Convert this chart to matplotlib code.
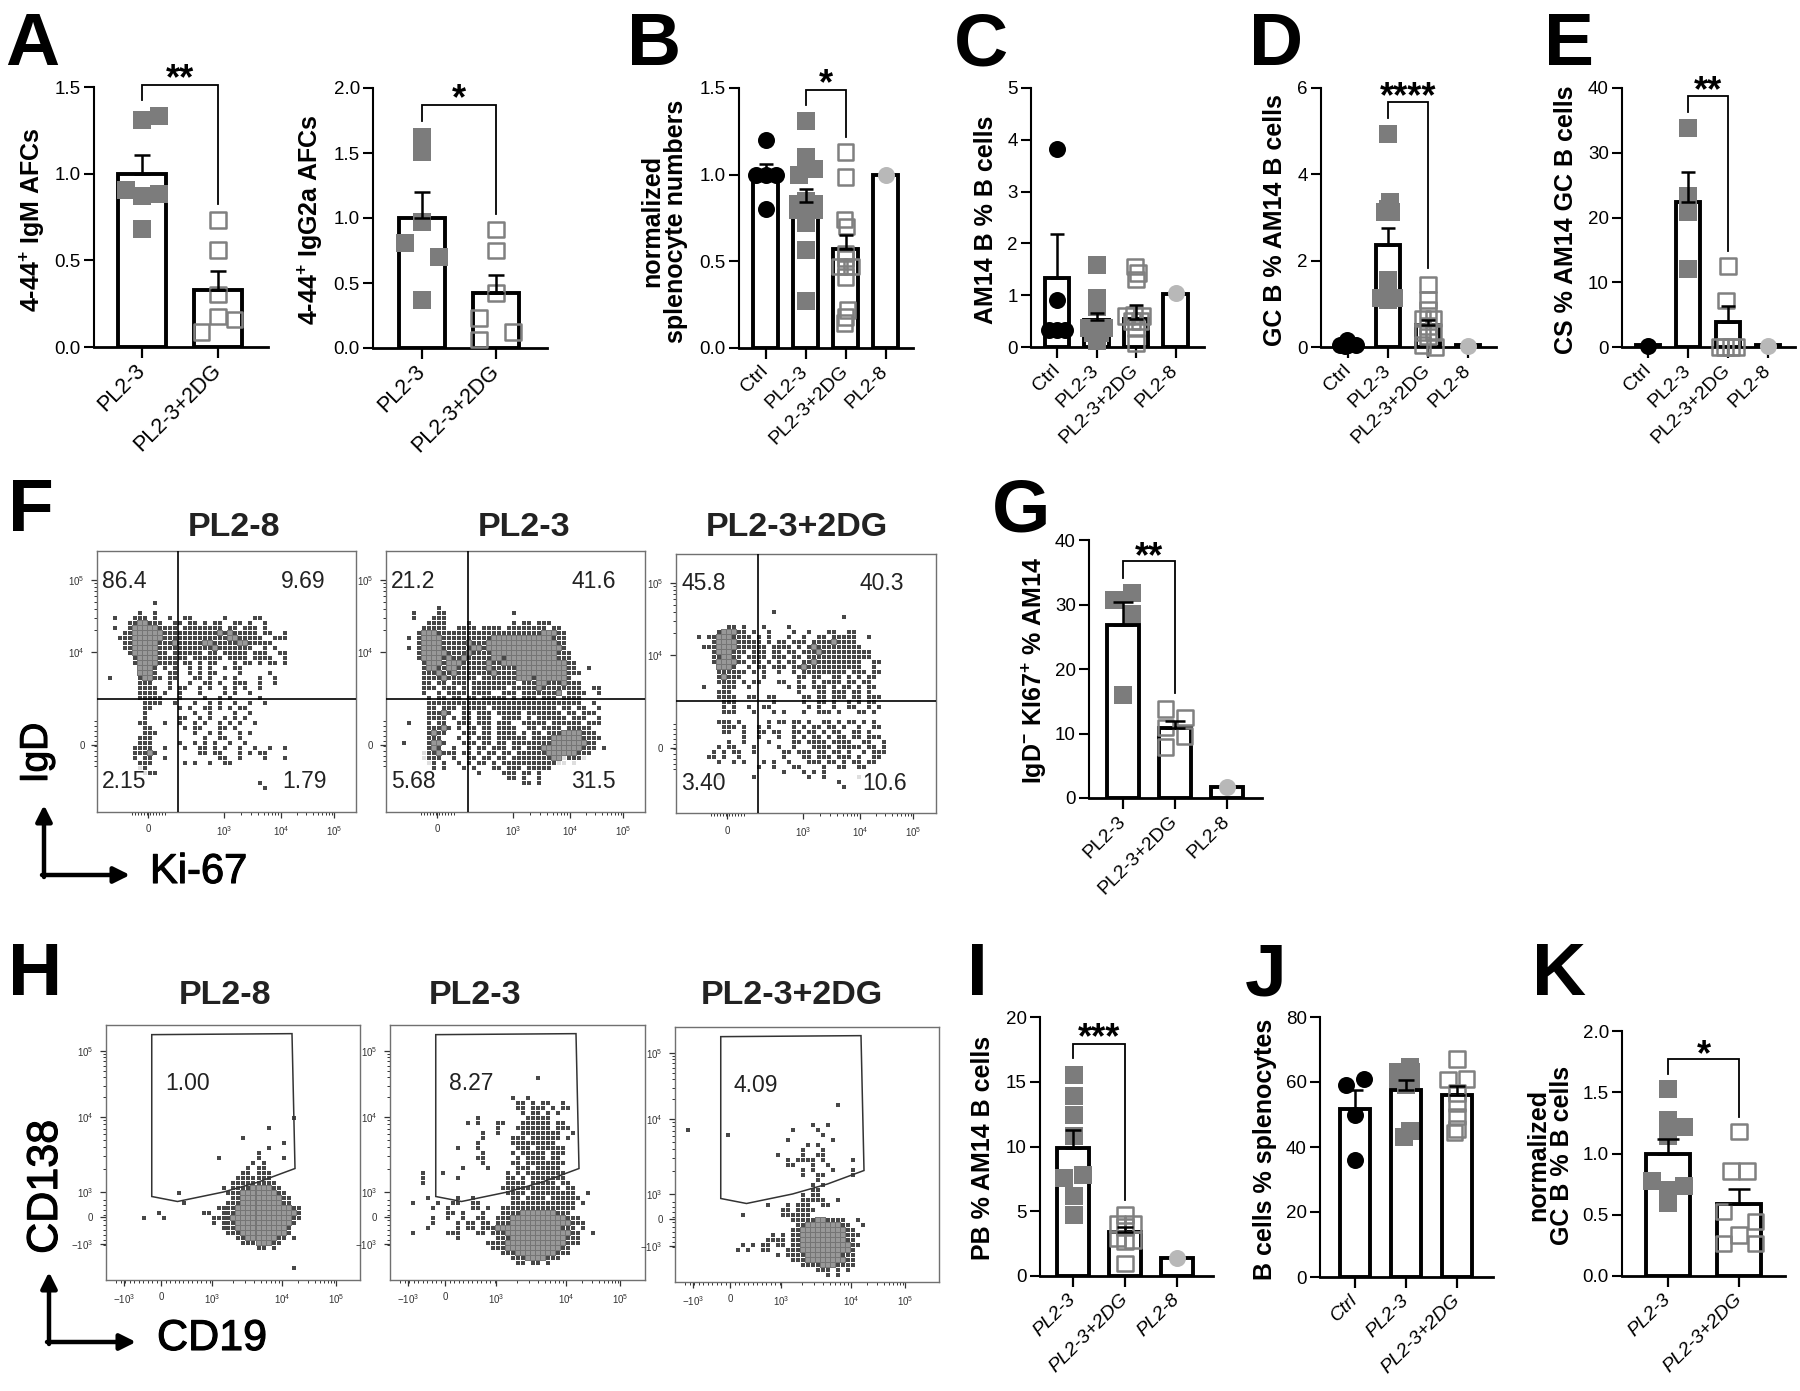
import numpy as np
import matplotlib
matplotlib.use('Agg')
import matplotlib.pyplot as plt
import matplotlib.patheffects as pe
from matplotlib.patches import Polygon

plt.rcParams['font.family'] = ['Liberation Sans', 'DejaVu Sans']
plt.rcParams['mathtext.fontset'] = 'custom'
plt.rcParams['mathtext.rm'] = 'Liberation Sans'
plt.rcParams['mathtext.bf'] = 'Liberation Sans:bold'

W, H = 1800, 1391

# ---- bar panels: means, sem and single animals
A1_GROUPS = ['PL2-3', 'PL2-3+2DG']
A1_MEANS = [1.0, 0.33]
A1_SEMS = [0.105, 0.11]
A1_VALUES = [[1.31, 1.33, 0.906, 0.87, 0.883, 0.68], [0.733, 0.56, 0.303, 0.177, 0.16, 0.088]]
A1_DX = [[0.0, 0.23, -0.21, 0.0, 0.23, 0.0], [0.0, 0.0, 0.0, 0.0, 0.22, -0.22]]

A2_GROUPS = ['PL2-3', 'PL2-3+2DG']
A2_MEANS = [1.0, 0.42]
A2_SEMS = [0.2, 0.14]
A2_VALUES = [[1.62, 1.51, 0.97, 0.805, 0.70, 0.367], [0.913, 0.75, 0.423, 0.23, 0.123, 0.064]]
A2_DX = [[0.0, 0.0, 0.0, -0.23, 0.23, 0.0], [0.0, 0.0, 0.0, -0.23, 0.23, -0.23]]

B_GROUPS = ['Ctrl', 'PL2-3', 'PL2-3+2DG', 'PL2-8']
B_MEANS = [1.01, 0.84, 0.57, 1.0]
B_SEMS = [0.05, 0.08, 0.08, 0.0]
B_VALUES = [[1.2, 1.0, 1.0, 1.0, 0.8],
            [1.31, 1.10, 1.035, 1.03, 1.0, 0.85, 0.83, 0.83, 0.795, 0.795, 0.72, 0.565, 0.27],
            [1.13, 0.987, 0.74, 0.70, 0.545, 0.515, 0.47, 0.47, 0.47, 0.41, 0.22, 0.18, 0.145],
            [1.0]]
B_DX = [[0.0, -0.25, 0.0, 0.25, 0.0],
        [0.0, 0.0, 0.0, 0.2, -0.17, 0.0, -0.2, 0.2, -0.2, 0.2, 0.0, 0.0, 0.0],
        [0.0, 0.0, -0.02, 0.03, 0.0, 0.0, -0.15, 0.15, 0.0, 0.0, 0.05, 0.0, -0.02],
        [0.0]]

C_GROUPS = ['Ctrl', 'PL2-3', 'PL2-3+2DG', 'PL2-8']
C_MEANS = [1.34, 0.53, 0.55, 1.02]
C_SEMS = [0.85, 0.13, 0.27, 0.0]
C_VALUES = [[3.83, 0.91, 0.32, 0.32, 0.32],
            [1.58, 0.95, 0.78, 0.37, 0.37, 0.37, 0.27, 0.27, 0.11],
            [1.55, 1.43, 1.3, 0.62, 0.6, 0.6, 0.5, 0.5, 0.37, 0.08],
            [1.04]]
C_DX = [[0.0, 0.0, -0.2, 0.0, 0.2],
        [0.0, 0.0, 0.0, -0.2, 0.0, 0.2, -0.1, 0.1, 0.0],
        [-0.03, 0.05, 0.0, -0.05, -0.25, 0.15, -0.1, 0.1, 0.0, 0.0],
        [0.0]]

D_GROUPS = ['Ctrl', 'PL2-3', 'PL2-3+2DG', 'PL2-8']
D_MEANS = [0.09, 2.36, 0.5, 0.05]
D_SEMS = [0.03, 0.39, 0.12, 0.0]
D_VALUES = [[0.16, 0.05, 0.05, 0.05, 0.03],
            [4.94, 3.36, 3.2, 3.13, 3.13, 1.55, 1.32, 1.13, 1.13, 1.1],
            [1.45, 1.09, 0.86, 0.66, 0.66, 0.47, 0.35, 0.35, 0.24, 0.05, 0.0],
            [0.02]]
D_DX = [[-0.03, -0.2, 0.0, 0.2, -0.08],
        [0.0, 0.05, 0.0, -0.07, 0.07, 0.0, 0.0, -0.17, 0.14, 0.0],
        [0.0, 0.0, 0.0, -0.14, 0.14, 0.0, -0.14, 0.14, 0.0, -0.14, 0.17],
        [0.0]]

E_GROUPS = ['Ctrl', 'PL2-3', 'PL2-3+2DG', 'PL2-8']
E_MEANS = [0.3, 22.4, 3.8, 0.25]
E_SEMS = [0.1, 4.6, 2.6, 0.0]
E_VALUES = [[0.2], [33.8, 23.3, 20.8, 12.05], [12.5, 7.2, 0.0, 0.0, 0.0, 0.0], [0.1]]
E_DX = [[0.0], [0.0, 0.0, 0.0, 0.0], [0.0, -0.05, -0.2, -0.07, 0.07, 0.2], [0.0]]

G_GROUPS = ['PL2-3', 'PL2-3+2DG', 'PL2-8']
G_MEANS = [26.8, 10.8, 1.7]
G_SEMS = [3.6, 1.2, 0.0]
G_VALUES = [[31.8, 30.7, 28.5, 16.0], [13.8, 12.5, 10.9, 9.6, 7.9], [1.7]]
G_DX = [[0.18, -0.18, 0.18, 0.0], [-0.18, 0.19, -0.18, 0.18, -0.18], [0.0]]

I_GROUPS = ['PL2-3', 'PL2-3+2DG', 'PL2-8']
I_MEANS = [9.9, 3.4, 1.4]
I_SEMS = [1.4, 0.4, 0.0]
I_VALUES = [[15.5, 13.9, 12.45, 10.8, 7.6, 7.8, 6.2, 4.7],
            [4.7, 4.0, 4.0, 3.8, 2.9, 2.8, 2.7, 0.98], [1.4]]
I_DX = [[0.02, 0.02, 0.02, 0.02, -0.17, 0.19, 0.02, 0.02],
        [0.0, -0.14, 0.15, 0.0, -0.14, 0.15, 0.0, 0.0], [0.0]]

J_GROUPS = ['Ctrl', 'PL2-3', 'PL2-3+2DG']
J_MEANS = [51.6, 57.5, 56.0]
J_SEMS = [5.8, 3.2, 2.8]
J_VALUES = [[61.0, 59.0, 50.0, 36.0],
            [64.5, 63.0, 63.0, 61.0, 61.0, 59.0, 45.0, 43.0],
            [67.0, 61.0, 60.7, 56.6, 53.5, 49.4, 45.5, 44.5]]
J_DX = [[0.18, -0.18, 0.0, 0.0],
        [0.08, -0.16, 0.1, -0.16, 0.1, 0.0, 0.08, -0.04],
        [0.0, 0.19, -0.18, 0.0, 0.0, 0.0, 0.0, -0.05]]

K_GROUPS = ['PL2-3', 'PL2-3+2DG']
K_MEANS = [1.0, 0.59]
K_SEMS = [0.12, 0.12]
K_VALUES = [[1.525, 1.275, 1.215, 1.14, 0.777, 0.736, 0.70, 0.594],
            [1.18, 0.858, 0.858, 0.526, 0.444, 0.335, 0.267, 0.267]]
K_DX = [[0.0, 0.0, 0.23, 0.0, -0.23, 0.23, 0.0, 0.0],
        [0.0, -0.11, 0.11, -0.22, 0.23, 0.0, -0.22, 0.23]]

# ---- flow plots: raster of the dots, one character per 5 px bin
# '#' dark dot, 'o' mid grey, '-' pale
F1_START = 10
F1_DOTS = [
"           #",
"",
"        #  #",
"   #   ### #  #  ##      #     ##",
"      ##oo###  ## ## # ##  ## #  #",
"   #  #ooooo#### ######## ## ### #",
"     ##oooooo###########o#o##### ##  #",
"    ###oooooo#############oo#####  ###",
"     ##ooooo###o#####oo#####oo#####",
"     ##ooooo###########o#######  # #",
"      #ooooo## ###### ## ##### ###  ##",
"       #oooo###### ###### #### ####  #",
"       #oooo#### ## # ##   # ## # ## #",
"        ooo# # #  # # #  # ##",
"        ooo#  ##  # # ##    #     #",
"  #     #oo## ##   ## #  # #    #  #",
"        ###   #   #  ## #  ###  #  #",
"        ####  # ##  # #  # # #  #",
"        #### #  #   #    # #  #",
"        #####   #    #  # #     #",
"         ####  #   #  # #  #  #  #",
"         ##     # #  ## # # ##",
"         #         #  #    #  #",
"         #      ##  # #  # # #",
"        ##   #  #  # #  # # #  #",
"         ##      # ##   ## #",
"         ###       #  # #   # #",
"        ###          #  ##  #",
"        ###     #  # # #  #  #",
"       ####  #   #  ## # #  #  #  #  #",
"       ###o#        ## ##   # # ##",
"       # ##  #          ##  #    #   #",
"        ###      # #  #  ##",
"        -#",
"         -##",
"",
"                                #",
"                                 #",
"",
"",
"",
"",
"",
"              #",
]

F2_START = 11
F2_DOTS = [
"          #",
"     #    ##             #",
"     #   ###",
"        ####    #        # ## ###",
"       #####  #### #### ######## ##",
"      #ooo#####################ooo##",
"    # #oooo##########oooooooooooo###",
"      #oooo#####o###oooooooooooooo##",
"    # #oooo######oo#ooooooooooooooo#",
"      #ooooo####o####ooooooooooooo###",
"      #oooo#o##o#####oo#oooooooooo###",
"       #ooo#ooo#####o##ooooooooooooo##",
"       #oo##oo######o#####oooooooooo##  #",
"       ###o##o#######o####oooooooooo###",
"       ####o###### #######ooo#oooooo#",
"       ## ## ### ######### ###oo###o###",
"       ### ### # ####### #####o########  ##",
"       #  # #### ####  ### #######o ####  #",
"        # ## ## ## ##### # ### ### ####",
"        ###############################  #",
"        ## ### ##### ############# ## ##  #",
"        ###o#  ## ### ##### ####### ## ###",
"        #### # ## ###  #### # ###### ###  #",
"    #   # ##  ### ### ###  ##### ###### ###",
"        ###o# # ## ## ####  ## #### #####",
"        #o##   ### ## #### # ## ###oooo###",
"        ###   # # ### ###### ####oooooo####",
"   #    #oo#   ### ## ## ########ooooooo##",
"        #o#  #  # ## ### ## ###oooooooo### #",
"       -##o### ## # ## ## ######oooooo###",
"       -###  #  ## ## ## ########oo-###-",
"        -# #  # # ## # ###########-- -",
"         # #   # #   ## ### #####",
"                  #    ### ## #",
"                        ## #  #",
"                           ## #",
]

F3_START = 11
F3_DOTS = [
"                   #",
"                                 #",
"",
"          ## #   #    #",
"        #ooo## #  #    #  #   ##  ##",
"    # ##ooo#### # #   #  #  ## #####  #",
"       #oooo##### # ## ### ####o####",
"     ###oooo###### #### # #o#########",
"       #ooo### ### ## ## ###o##########",
"       ##oo## #### ### ## #############",
"       #oooo## ## # # ## ##o#########  ##",
"        ooo#  # ## ### ##o###########  #",
"        ###### # #  #  # ######### ### ##",
"        #o###    #      ## ##  ## # # ##",
"        #### # ##   ##  #  # #### ## ##",
"     #   ###  #       # ## ### # ## # ##",
"        ###             #   ## ### ## #",
"        ####  ##  ##     ## ## ### ## ###",
"         ###       #     #  ## #  # # ##",
"         # #  #  ##       # #  #  ##  # #",
"         ###   #   # #   #  ### #   ## #",
"",
"        ### #     # ## ## #  ## # ## # #",
"         ### #  # #    # # ## ## #  #  ##",
"         ##  #  ## ##  ## ## # ##  ## #",
"             #  #   #  # # ## # ## ## ###",
"          #  #    #    ## #### ####  ##  #",
"        # ##   #    #  #   #### ##### ## #",
"       # # ##  #     ## ### ## ## #  # ###",
"      ## #  #        #   ## ### ### #  ##",
"        #  # #   # #  #   ### ## # ## ##",
"                #  #   ##    #  ##  ##",
"                     #   # # #",
"        -      #          #  #      -",
"                                #",
"                                 #",
]

H1_START = 18
H1_DOTS = [
"                                     #",
"",
"                                #",
"",
"                           #",
"                                   #",
"                                #",
"                              #",
"                      #       #    #",
"                             # #",
"                            # ##",
"                           ## ###",
"                          #######",
"                         #########",
"                       # ####oooo##",
"              #         ###ooooooo##",
"                         ##oooooooo##",
"               #        ###oooooooo##",
"                      ####ooooooooooo##",
"          #        ##  ###oooooooooooo#",
"       #   #         ####oooooooooooo##",
"                     # ###ooooooooooo#",
"                       ###oooooooooo#",
"                        ###ooooooooo#",
"                          ##oooooo## #",
"                           ###ooo##",
"                              ## #",
"",
"",
"",
"                                     #",
]

H2_START = 10
H2_DOTS = [
"                             #",
"",
"",
"",
"                        #  #",
"                         ## # ##  #",
"                         ## ### # ##",
"                          # ## # #",
"                 #         #####",
"               # #   ##   ###### ##",
"                     #   ####### ###",
"                  #  #    ########  #",
"                  #     ### ###### #",
"                 #      #########",
"             #   #       ### ######",
"                  #     # ##### ###",
"                 ##      # #### ##",
"                  #     ## ########",
"              #    #     ### #####",
"      #   #            # # ########",
"      #      #         ## # #######",
"      #                #### ##### ##",
"                      ############ ##",
"                       #### #########  #",
"       #     #  #       ## #### ######",
"    #    #  ##  ##      ############# #",
"        #  #    ## #  ###############",
"           ## #   #   ####ooooooo###",
"        #  #  #  ##  ###ooooooooooo###",
"        #    # ## ## ###oooooooooooo###",
"       #     # ## ###ooooooooooooo### #",
"    #      ###   ## ###ooooooooooooo##  #",
"             #       ###ooooooooooo###",
"                   ####oooooooooooo###",
"                    ###ooooooooooo##",
"                      ###oooooooo###",
"                        ###oooo###",
"                         ## ## #",
]

H3_START = 15
H3_DOTS = [
"                                #",
"",
"",
"",
"                           #  #",
"  #                    #    #",
"          #                  #",
"                      #        #",
"                          # #",
"                         #   #",
"                    #    #  ##",
"                      # #### #     #",
"                      ##   #  #",
"                         # #   #   #",
"                         #  ##     #",
"                            #",
"                           # #",
"                           ##",
"                         # ##",
"                         #####  #",
"                  #   # ###  ##",
"                     ## ####",
"             #       ######",
"                       #####oo####  #",
"                        ##ooooooo##  #",
"                       ##ooooooooo##",
"                   # # ##ooooooooo###",
"                  #### ##ooooooooo##",
"             # # ## ## ##oooooooooo##",
"            # #  ##   ###oooooooooo#",
"                    # ####ooooooo###",
"                       ###oooooooo##",
"                         ####ooo####",
"                            ### # #",
"                              # #",
"",
"                           #",
]

# tick positions of the flow plots, in 5 px bins
F_XTICKS = [10.2, 25.4, 36.8, 47.4]
F_XLABELS = ['0', '$10^{3}$', '$10^{4}$', '$10^{5}$']
F_YTICKS = [5.8, 20.2, 38.8]
F_YLABELS = ['$10^{5}$', '$10^{4}$', '0']
HF_XTICKS = [3.6, 11.0, 21.2, 35.2, 46.0]
HF_XLABELS = ['$-10^{3}$', '0', '$10^{3}$', '$10^{4}$', '$10^{5}$']
HF_YTICKS = [5.2, 18.4, 33.4, 38.4, 43.8]
HF_YLABELS = ['$10^{5}$', '$10^{4}$', '$10^{3}$', '0', '$-10^{3}$']
GATE_X = [9.15, 37.2, 37.8, 30.5, 23.5, 14.3, 9.15]
GATE_Y = [1.93, 1.73, 28.7, 31.4, 33.4, 35.3, 34.3]

DOT_COLORS = {'#': '#474747', 'o': '#989898', '-': '#dedede'}
DOT_SIZES = {'#': 11, 'o': 8, '-': 10}
GROUP_STYLE = {
    'Ctrl': dict(marker='o', color='black', fill=True),
    'PL2-3': dict(marker='s', color='#7c7c7c', fill=True),
    'PL2-3+2DG': dict(marker='s', color='#808080', fill=False),
    'PL2-8': dict(marker='o', color='#b8b8b8', fill=True),
}

fig = plt.figure(figsize=(W / 100, H / 100), dpi=100, facecolor='white')

# overlay in picture pixels, used for all free text
ov = fig.add_axes([0, 0, 1, 1], zorder=10)
ov.set_xlim(0, W)
ov.set_ylim(H, 0)
ov.axis('off')
ov.patch.set_alpha(0)


def axes_px(left, right, top, bottom):
    return fig.add_axes([left / W, 1 - bottom / H, (right - left) / W, (bottom - top) / H])


def bar_panel(box, ticks, ymax, yticks, ylabels, groups, means, sems, values, dx,
              barw, tick_fs=14, italic=False, capw=6):
    left, right, top, bottom = box
    ax = axes_px(left, right, top, bottom)
    sp = ticks[1] - ticks[0]
    ax.set_xlim(-(ticks[0] - left) / sp, (right - ticks[0]) / sp)
    ax.set_ylim(0, ymax)
    pos = np.arange(len(groups))
    ax.bar(pos, means, barw, facecolor='white', edgecolor='black', linewidth=2.8, zorder=2)
    for i, g in enumerate(groups):
        st = GROUP_STYLE[g]
        xs = i + np.array(dx[i])
        if st['fill']:
            ax.scatter(xs, values[i], s=150, marker=st['marker'], color=st['color'],
                       linewidths=0, zorder=3, clip_on=False)
        else:
            ax.scatter(xs, values[i], s=125, marker=st['marker'], facecolors='none',
                       edgecolors=st['color'], linewidths=1.8, zorder=3, clip_on=False)
        if sems[i] > 0:
            ax.errorbar(i, means[i], yerr=[[0], [sems[i]]], color='black', elinewidth=1.8,
                        capsize=capw, capthick=1.8, zorder=4)
    for s in ['top', 'right']:
        ax.spines[s].set_visible(False)
    ax.spines['left'].set_linewidth(1.5)
    ax.spines['bottom'].set_linewidth(2.0)
    ax.set_yticks(yticks)
    ax.set_yticklabels(ylabels, fontsize=13.5)
    ax.set_xticks(pos)
    ax.set_xticklabels(groups, fontsize=tick_fs, rotation=45, ha='right', va='center',
                       rotation_mode='anchor', style='italic' if italic else 'normal')
    ax.tick_params(axis='y', length=7.5, width=1.5, pad=2)
    ax.tick_params(axis='x', length=8, width=1.6, pad=7)
    ax.patch.set_alpha(0)
    return ax


def bracket(ax, x0, x1, top, left_end, right_end, stars, star_y, fs=26):
    ax.plot([x0, x0, x1, x1], [left_end, top, top, right_end], color='black', lw=1.3,
            clip_on=False, zorder=5, solid_joinstyle='miter')
    ax.annotate(stars, xy=((x0 + x1) / 2, star_y), xycoords='data', xytext=(0, -0.57 * fs),
                textcoords='offset points', ha='center', va='baseline', fontsize=fs,
                fontweight='bold', annotation_clip=False)


def decade_minor(major):
    out = []
    for a, b in zip(major[:-1], major[1:]):
        out += [a + (b - a) * np.log10(k) for k in range(2, 10)]
    return out


def flow_panel(box, rows, start, xt, xl, yt, yl):
    left, right, top, bottom = box
    ax = axes_px(left, right, top, bottom)
    ax.set_xlim(0, (right - left) / 5)
    ax.set_ylim((bottom - top) / 5, 0)
    for ch, col in DOT_COLORS.items():
        xs = [c + 0.5 for r, row in enumerate(rows) for c, v in enumerate(row) if v == ch]
        ys = [r + start + 0.5 for r, row in enumerate(rows) for c, v in enumerate(row) if v == ch]
        if ch == 'o':
            # the grey bins sit on a darker ground, so dense areas look mottled
            ax.scatter(xs, ys, s=15, marker='s', color='#757575', linewidths=0, zorder=2)
        ax.scatter(xs, ys, s=DOT_SIZES[ch], marker='s', color=col, linewidths=0, zorder=2)
    for s in ax.spines.values():
        s.set_linewidth(1.0)
        s.set_color('#707070')
    ax.set_xticks(xt)
    ax.set_xticklabels(xl, fontsize=7, color='#333333')
    ax.set_yticks(yt)
    ax.set_yticklabels(yl, fontsize=7, color='#333333')
    ax.tick_params(length=4, width=0.9, pad=5, color='#333333')
    return ax


def quad_lines(ax, vx, hy):
    ax.axvline(vx, color='black', lw=1.2, zorder=3)
    ax.axhline(hy, color='black', lw=1.2, zorder=3)


# ---- top row
ax = bar_panel((94, 268, 87, 347), [142, 218], 1.5, [0, 0.5, 1.0, 1.5], ['0.0', '0.5', '1.0', '1.5'],
               A1_GROUPS, A1_MEANS, A1_SEMS, A1_VALUES, A1_DX, 0.62, tick_fs=15.5)
bracket(ax, 0, 1, 1.51, 1.424, 0.825, '**', 1.606)
ax = bar_panel((373, 547, 88, 348), [422, 496], 2.0, [0, 0.5, 1.0, 1.5, 2.0], ['0.0', '0.5', '1.0', '1.5', '2.0'],
               A2_GROUPS, A2_MEANS, A2_SEMS, A2_VALUES, A2_DX, 0.62, tick_fs=15.5)
bracket(ax, 0, 1, 1.867, 1.746, 1.033, '*', 1.995)
ax = bar_panel((739, 913, 88, 348), [765.5, 805.5, 846, 885.5], 1.5, [0, 0.5, 1.0, 1.5], ['0.0', '0.5', '1.0', '1.5'],
               B_GROUPS, B_MEANS, B_SEMS, B_VALUES, B_DX, 0.62, capw=5)
bracket(ax, 1, 2, 1.49, 1.40, 1.22, '*', 1.586)
bar_panel((1031, 1204, 88, 347), [1057, 1096.5, 1136, 1176], 5, [0, 1, 2, 3, 4, 5], ['0', '1', '2', '3', '4', '5'],
          C_GROUPS, C_MEANS, C_SEMS, C_VALUES, C_DX, 0.62, capw=5)
ax = bar_panel((1321, 1496, 88, 347), [1348, 1388, 1427, 1467], 6, [0, 2, 4, 6], ['0', '2', '4', '6'],
               D_GROUPS, D_MEANS, D_SEMS, D_VALUES, D_DX, 0.62, capw=5)
bracket(ax, 1, 2, 5.67, 5.31, 1.82, '****', 6.04)
ax = bar_panel((1622, 1795, 88, 347), [1648, 1688, 1728, 1767.5], 40, [0, 10, 20, 30, 40], ['0', '10', '20', '30', '40'],
               E_GROUPS, E_MEANS, E_SEMS, E_VALUES, E_DX, 0.62, capw=5)
bracket(ax, 1, 2, 38.7, 36.3, 14.9, '**', 41.2)

# ---- F, G
f1 = flow_panel((97, 356, 551, 812), F1_DOTS, F1_START, F_XTICKS, F_XLABELS, F_YTICKS, F_YLABELS)
quad_lines(f1, 16.2, 29.6)
f2 = flow_panel((386, 645, 551, 812), F2_DOTS, F2_START, F_XTICKS, F_XLABELS, F_YTICKS, F_YLABELS)
quad_lines(f2, 16.4, 29.6)
f3 = flow_panel((676, 936, 554, 813), F3_DOTS, F3_START, F_XTICKS, F_XLABELS, F_YTICKS, F_YLABELS)
quad_lines(f3, 16.4, 29.4)
for a in (f1, f2, f3):
    a.set_xticks(decade_minor(F_XTICKS[1:]) + list(np.arange(7.0, 14.0, 0.6)), minor=True)
    a.set_yticks(decade_minor(F_YTICKS[:2][::-1]) + list(np.arange(34.0, 44.0, 1.0)), minor=True)
    a.tick_params(which='minor', length=2.5, width=0.7, color='#333333')

ax = bar_panel((1089, 1262, 540, 798), [1123, 1175, 1226], 40, [0, 10, 20, 30, 40], ['0', '10', '20', '30', '40'],
               G_GROUPS, G_MEANS, G_SEMS, G_VALUES, G_DX, 0.6, capw=7)
bracket(ax, 0, 1, 36.7, 34.1, 16.3, '**', 39.0)

# ---- H, I, J, K
frames_h = [((106, 360, 1025, 1280), H1_DOTS, H1_START),
            ((390, 645, 1025, 1280), H2_DOTS, H2_START),
            ((675, 939, 1027, 1282), H3_DOTS, H3_START)]
for box, rows, start in frames_h:
    a = flow_panel(box, rows, start, HF_XTICKS, HF_XLABELS, HF_YTICKS, HF_YLABELS)
    a.add_patch(Polygon(np.column_stack([GATE_X, GATE_Y]), closed=True, fill=False,
                        edgecolor='#333333', lw=1.1, zorder=3))
    a.set_xticks(decade_minor(HF_XTICKS[2:]) + list(np.arange(2.0, 21.0, 0.9)), minor=True)
    a.set_yticks(decade_minor(HF_YTICKS[:3][::-1]) + list(np.arange(35.0, 45.0, 1.0)), minor=True)
    a.tick_params(which='minor', length=2.5, width=0.7, color='#333333')

ax = bar_panel((1040, 1213, 1017, 1276), [1073, 1125, 1177.5], 20, [0, 5, 10, 15, 20], ['0', '5', '10', '15', '20'],
               I_GROUPS, I_MEANS, I_SEMS, I_VALUES, I_DX, 0.6, italic=True, capw=6)
bracket(ax, 0, 1, 17.9, 16.8, 5.9, '***', 19.2)
bar_panel((1320, 1493, 1017, 1277), [1355, 1406, 1458], 80, [0, 20, 40, 60, 80], ['0', '20', '40', '60', '80'],
          J_GROUPS, J_MEANS, J_SEMS, J_VALUES, J_DX, 0.6, italic=True, capw=6)
ax = bar_panel((1622, 1785, 1031, 1276), [1668, 1739], 2.0, [0, 0.5, 1.0, 1.5, 2.0], ['0.0', '0.5', '1.0', '1.5', '2.0'],
               K_GROUPS, K_MEANS, K_SEMS, K_VALUES, K_DX, 0.62, italic=True, capw=8)
bracket(ax, 0, 1, 1.77, 1.65, 1.30, '*', 1.89)

# ---- free text
for t, x, y in [('A', 5, 65), ('B', 627, 65), ('C', 954, 65), ('D', 1249, 65), ('E', 1544, 65),
                ('F', 8, 531), ('G', 992, 531), ('H', 8, 995), ('I', 967, 995), ('J', 1245, 995),
                ('K', 1532, 995)]:
    ov.text(x, y, t, fontsize=54, fontweight='bold', ha='left', va='baseline')

for t, x, y in [('4-44$^{\\mathbf{+}}$ IgM AFCs', 32, 220),
                ('4-44$^{\\mathbf{+}}$ IgG2a AFCs', 310, 220),
                ('normalized\nsplenocyte numbers', 664, 221),
                ('AM14 B % B cells', 986, 220),
                ('GC B % AM14 B cells', 1275, 220),
                ('CS % AM14 GC B cells', 1566, 220),
                ('IgD$^{\\mathbf{-}}$ KI67$^{\\mathbf{+}}$ % AM14', 1034, 670),
                ('PB % AM14 B cells', 983, 1148),
                ('B cells % splenocytes', 1265, 1149),
                ('normalized\nGC B % B cells', 1550, 1155)]:
    ov.text(x, y, t, fontsize=18, fontweight='bold', rotation=90, ha='center', va='center',
            multialignment='center', linespacing=1.0)

for t, x, y in [('PL2-8', 234, 527), ('PL2-3', 524, 527), ('PL2-3+2DG', 797, 527),
                ('PL2-8', 225, 995), ('PL2-3', 475, 995), ('PL2-3+2DG', 792, 995)]:
    ov.text(x, y, t, fontsize=24.5, fontweight='bold', ha='center', va='center', color='#222222')

for t, x, y in [('86.4', 102, 581), ('9.69', 281, 581), ('2.15', 102, 782), ('1.79', 282, 782),
                ('21.2', 391, 581), ('41.6', 571, 581), ('5.68', 391, 782), ('31.5', 571, 782),
                ('45.8', 682, 583), ('40.3', 860, 583), ('3.40', 681, 784), ('10.6', 862, 784),
                ('1.00', 165, 1083), ('8.27', 449, 1083), ('4.09', 734, 1086)]:
    ov.text(x, y, t, fontsize=16.5, ha='left', va='center', color='#222222')

thick = [pe.withStroke(linewidth=0.8, foreground='black')]
ov.text(37, 753, 'IgD', fontsize=28, rotation=90, ha='center', va='center', path_effects=thick)
ov.text(150, 883, 'Ki-67', fontsize=30, ha='left', va='baseline', path_effects=thick)
ov.text(46, 1187, 'CD138', fontsize=31, rotation=90, ha='center', va='center', path_effects=thick)
ov.text(157, 1350, 'CD19', fontsize=31, ha='left', va='baseline', path_effects=thick)

for x0, y0, ytop, xend in [(44, 875, 805, 130), (49, 1342, 1272, 136)]:
    ov.annotate('', xy=(x0, ytop), xytext=(x0, y0 + 2),
                arrowprops=dict(arrowstyle='-|>', lw=3.2, color='black', mutation_scale=24, shrinkA=0, shrinkB=0))
    ov.annotate('', xy=(xend, y0), xytext=(x0 - 2, y0),
                arrowprops=dict(arrowstyle='-|>', lw=3.2, color='black', mutation_scale=24, shrinkA=0, shrinkB=0))

fig.savefig('out.png', dpi=100, facecolor='white')
